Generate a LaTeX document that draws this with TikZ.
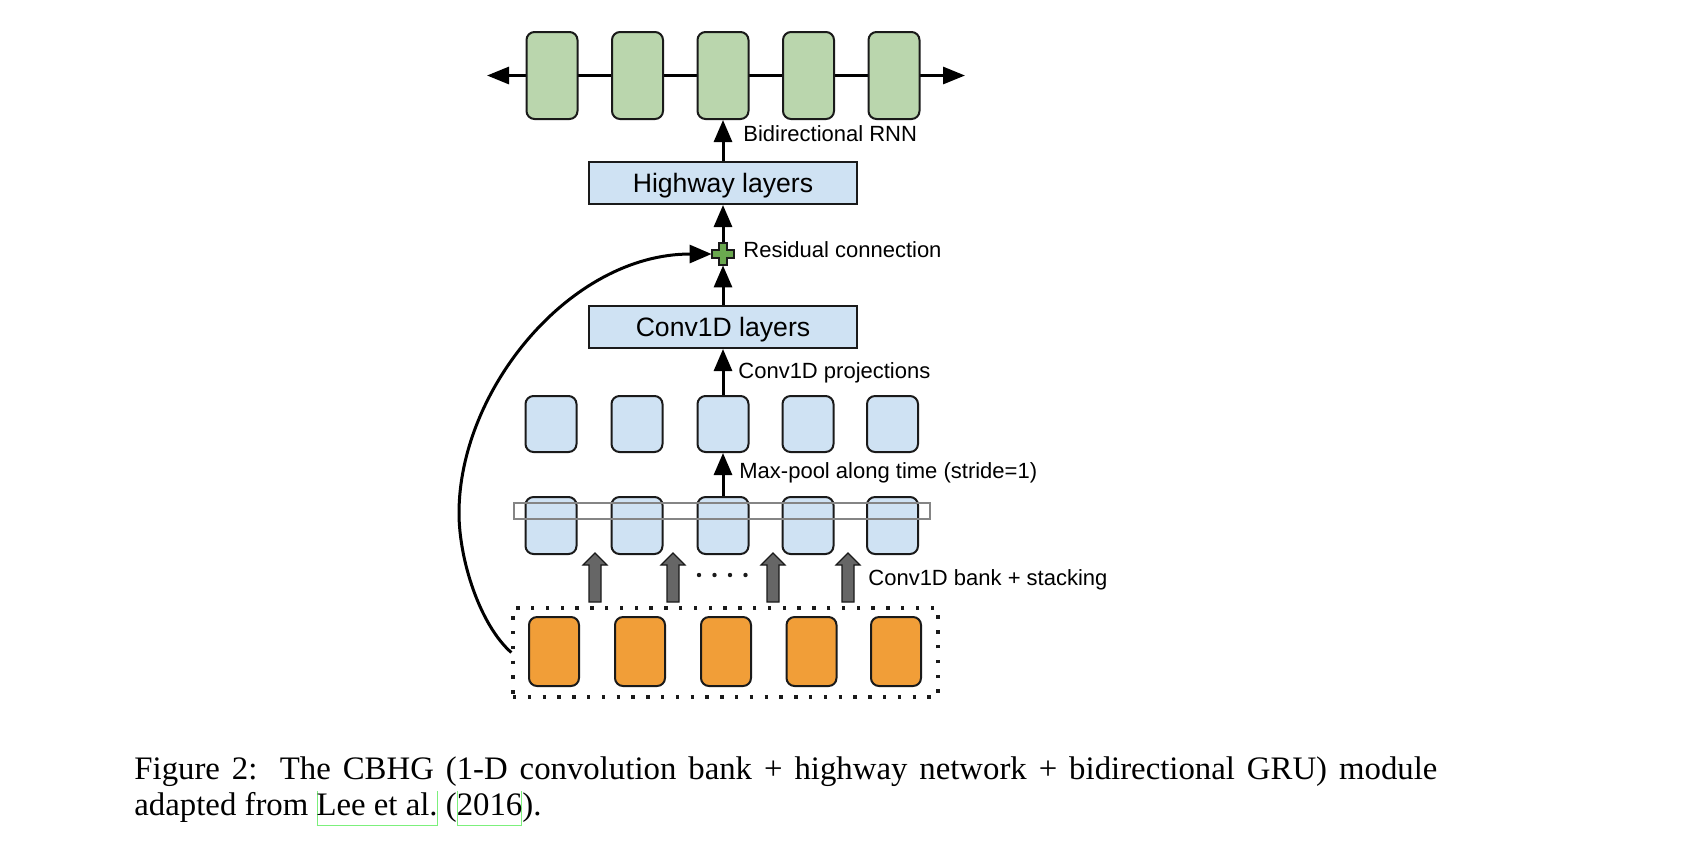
\documentclass[tikz,border=0pt]{standalone}
\usepackage{fontspec}
\setmainfont{Liberation Serif}
\newfontfamily\arial{Liberation Sans}
\usetikzlibrary{arrows.meta}
\definecolor{gcol}{HTML}{BAD6AD}
\definecolor{bcol}{HTML}{CFE2F3}
\definecolor{ocol}{HTML}{F19E38}
\definecolor{bordercol}{HTML}{1A1A1A}
\definecolor{plusg}{HTML}{6AA84F}
\definecolor{graya}{HTML}{666666}
\definecolor{wincol}{HTML}{858585}
\definecolor{linkg}{HTML}{7CF07C}
\newsavebox\lnkbox
\newcommand\lnk[1]{\leavevmode\sbox\lnkbox{#1}\rlap{\color{linkg}\vrule width .5pt height 12pt depth 5.5pt\kern-.5pt\rule[-5.5pt]{\wd\lnkbox}{.5pt}\kern-.5pt\vrule width .5pt height 12pt depth 5.5pt}\usebox\lnkbox}
\tikzset{
  cell/.style={draw=bordercol, line width=1pt, rounded corners=4pt, inner sep=0pt, minimum width=25.5pt},
  gcell/.style={cell, fill=gcol, minimum height=43.5pt},
  bcell/.style={cell, fill=bcol, minimum height=28pt},
  kcell/.style={cell, fill=bcol, minimum height=28.5pt},
  ocell/.style={cell, fill=ocol, minimum height=34.5pt, minimum width=25pt},
  layerbox/.style={draw=bordercol, line width=1pt, fill=bcol, minimum width=134pt, minimum height=21pt, inner sep=0pt, font=\arial\fontsize{13.3}{15}\selectfont, text height=9.5pt, text depth=0pt},
  lbl/.style={font=\arial\fontsize{11}{13}\selectfont, anchor=base west, inner sep=0pt},
  arr/.style={line width=1.5pt, -{Triangle[length=11pt,width=9pt]}},
  dualarr/.style={line width=1.5pt, {Triangle[length=11pt,width=8.5pt]}-{Triangle[length=11pt,width=8.5pt]}},
  capfont/.style={font=\fontsize{16.4}{18}\selectfont, anchor=base west, inner sep=0pt},
  barrow/.pic={\draw[fill=graya, draw=bordercol, line width=0.6pt] (-6,0) -- (-6,-37) -- (-12,-37) -- (0,-49) -- (12,-37) -- (6,-37) -- (6,0) -- cycle;},
  plussign/.pic={\draw[fill=plusg, draw=bordercol, line width=0.6pt] (-4,-11) -- (4,-11) -- (4,-4) -- (11,-4) -- (11,4) -- (4,4) -- (4,11) -- (-4,11) -- (-4,4) -- (-11,4) -- (-11,-4) -- (-4,-4) -- cycle;}
}
\begin{document}
\begin{tikzpicture}[x=0.5pt,y=-0.5pt]
\useasboundingbox (0,0) rectangle (1684,848);
% bidirectional RNN line
\coordinate (rl) at (487,75.5);
\coordinate (rr) at (965,75.5);
\draw[dualarr] (rl) -- (rr);
% green cells
\foreach \i/\x in {1/552,2/637.5,3/723,4/808.5,5/894}
  \node[gcell] (g\i) at (\x,75.5) {};
% layer boxes
\node[layerbox] (high) at (723,183) {Highway layers};
\node[inner sep=0pt, minimum size=11pt] (plus) at (723,254) {};
\node[layerbox] (conv) at (723,327) {Conv1D layers};
% projection cells
\foreach \i/\x in {1/551,2/637,3/723,4/808,5/892.5}
  \node[bcell] (m\i) at (\x,424) {};
% bank cells
\foreach \i/\x in {1/551,2/637,3/723,4/808,5/892.5}
  \node[kcell] (k\i) at (\x,525.5) {};
% max-pool window
\node[draw=wincol, line width=0.8pt, minimum width=208pt, minimum height=8pt, inner sep=0pt] (win) at (722,511) {};
% input cells
\node[draw=bordercol, line width=1.7pt, dash pattern=on 1.7pt off 5.7pt, minimum width=212.5pt, minimum height=44.5pt, inner sep=0pt] (inbox) at (725.5,652.5) {};
\foreach \i/\x in {1/554,2/640,3/726,4/811.5,5/896}
  \node[ocell] (o\i) at (\x,651.5) {};
% block arrows
\foreach \x in {595,673,773,848}
  \path (\x,602) pic {barrow};
\foreach \x in {699,714.5,730,745.5}
  \fill[bordercol] (\x,575) circle (1.1pt);
% arrows
\draw[arr] (k3.north) -- (m3.south);
\draw[arr] (m3.north) -- (m3.north |- conv.south);
\draw[arr] (conv.north) -- (plus.south);
\draw[arr] (plus.north) -- (high.south);
\draw[arr] (high.north) -- (g3.south);
\draw[arr] (inbox.west) .. controls (480,625) and (459,560) .. (459,513) .. controls (459,390) and (570,254) .. (plus.west);
\path (plus.center) pic {plussign};
% labels
\node[lbl] (lrnn) at (743,141) {Bidirectional RNN};
\node[lbl] (lres) at (743,257) {Residual connection};
\node[lbl] (lproj) at (738,378) {Conv1D projections};
\node[lbl] (lpool) at (739,478) {Max-pool along time (stride=1)};
\node[lbl] (lbank) at (868,585) {Conv1D bank + stacking};
% caption
\node[capfont] (cap1) at (134,779) {\makebox[651.5pt][s]{Figure 2:\hspace{2pt} The CBHG (1-D convolution bank + highway network + bidirectional GRU) module}};
\node[capfont] (cap2) at (134,815) {adapted from \lnk{Lee et al.} (\lnk{2016}).};
\end{tikzpicture}
\end{document}
